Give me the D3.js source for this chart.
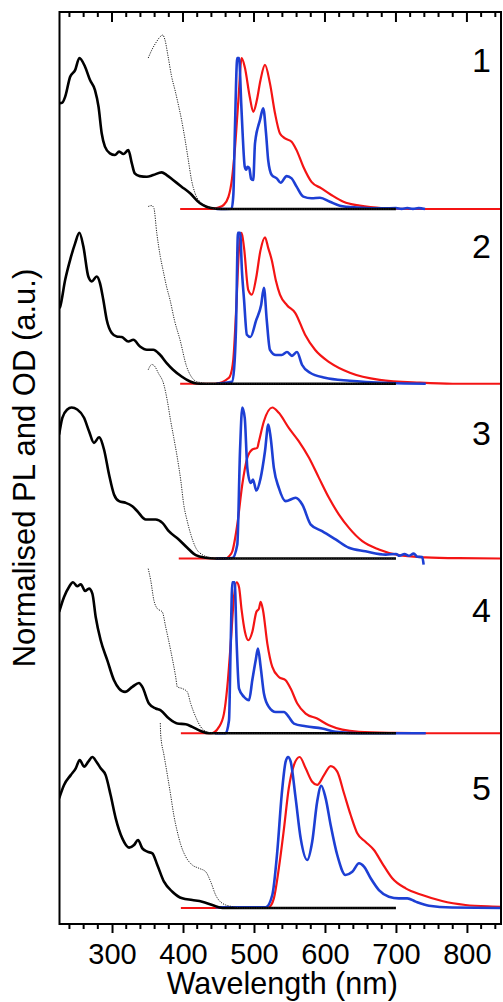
<!DOCTYPE html>
<html>
<head>
<meta charset="utf-8">
<script src="https://cdn.jsdelivr.net/npm/d3@7"></script>
<style>
  body { margin: 0; background: #fff; }
  text { font-family: "Liberation Sans", Arial, sans-serif; fill: #000; }
</style>
</head>
<body>
<div id="chart"></div>
<script>
// wavelength (nm), normalised value
// panel 1
const abs1 = [[226,0.70],[230,0.705],[234,0.744],[241,0.876],[248,0.92],[254,1.0],[262,0.942],[269,0.854],[276,0.788],[281,0.677],[285.5,0.50],[290,0.413],[297,0.369],[304,0.358],[310,0.38],[316,0.364],[323,0.39],[328,0.30],[332,0.236],[339,0.218],[349,0.214],[358,0.225],[370,0.243],[377,0.225],[386,0.192],[398,0.148],[410,0.104],[424,0.038],[433,0.015],[447,0.002],[460,0],[700,0]];
const exc1 = [[351,1.0],[356,1.053],[363,1.11],[367.6,1.14],[371.4,1.152],[374.6,1.12],[379,1.01],[384,0.876],[388.7,0.788],[393,0.70],[398,0.589],[403,0.457],[407.5,0.324],[412,0.192],[417,0.104],[424,0.048],[433,0.02],[447,0.002],[460,0],[700,0]];
const film1 = [[396,0],[440,0],[450,0.01],[457,0.026],[464,0.08],[469,0.2],[473,0.39],[478,0.72],[482.6,1.0],[487,0.94],[494,0.744],[499,0.644],[504,0.72],[509,0.85],[515.5,0.954],[522.5,0.832],[529.6,0.634],[536.6,0.50],[543.7,0.468],[553,0.446],[560,0.39],[569.5,0.28],[581,0.18],[595,0.137],[609,0.093],[626,0.048],[649,0.022],[682,0.005],[720,0],[850,0]];
const sol1 = [[447,0],[468.5,0.002],[471,0.1],[473,0.50],[476.5,1.0],[479,1.0],[482,0.7],[484,0.50],[487,0.28],[489,0.26],[491,0.28],[493.4,0.27],[496,0.2],[499,0.192],[501.4,0.435],[508.5,0.59],[513,0.667],[517,0.50],[520,0.324],[525,0.225],[532,0.203],[537.6,0.174],[546,0.218],[553,0.203],[560,0.148],[569.5,0.082],[581,0.071],[593,0.075],[607,0.048],[621,0.022],[645,0.01],[682,0.004],[700,0.006],[708,0.001],[716,0.007],[724,0.001],[732,0.006],[741,0]];

// panel 2
const abs2 = [[226,0.50],[227,0.512],[234,0.689],[241,0.821],[248,0.93],[254,1.0],[259.6,0.91],[266.6,0.71],[271.4,0.678],[278.4,0.71],[283,0.667],[287.7,0.556],[292.5,0.424],[299.6,0.336],[306.6,0.313],[313.7,0.309],[323,0.28],[330,0.291],[339.4,0.247],[349,0.225],[358,0.225],[367.6,0.192],[377,0.137],[386,0.093],[398,0.048],[410,0.015],[419,0.002],[430,0],[700,0]];
const exc2 = [[351,1.174],[356,1.18],[359,1.163],[363,1.0],[368,0.843],[372,0.75],[377,0.64],[381.7,0.556],[388,0.42],[395.8,0.291],[405,0.115],[412,0.045],[419,0.015],[440,0],[700,0]];
const film2 = [[396,0],[445,0],[455,0.01],[462,0.03],[466,0.048],[470.8,0.159],[475,0.5],[479,0.9],[482.6,1.0],[486,0.9],[492,0.62],[497,0.59],[503,0.7],[509,0.88],[515.5,0.97],[520,0.9],[525,0.82],[531,0.68],[536.6,0.59],[546.5,0.52],[558,0.47],[572,0.325],[586,0.225],[607,0.14],[635,0.073],[677,0.026],[734,0.007],[780,0],[850,0]];
const sol2 = [[447,0],[469,0.013],[472,0.1],[474.6,0.36],[477.5,1.0],[480.5,1.0],[483,0.75],[486,0.556],[490,0.325],[495,0.31],[503,0.42],[510,0.52],[514,0.636],[518,0.42],[522.5,0.225],[531,0.19],[539,0.19],[546.5,0.21],[553.5,0.185],[560.6,0.21],[567.6,0.126],[579,0.073],[600,0.04],[635,0.02],[690,0.005],[742,0]];

// panel 3
const abs3 = [[225.5,0.821],[230,0.932],[237,0.987],[243,1.0],[251,0.987],[260.6,0.932],[267.6,0.843],[274.6,0.766],[281.7,0.803],[288.7,0.722],[295.8,0.556],[302.8,0.424],[309.9,0.38],[319,0.369],[328.6,0.346],[335.7,0.313],[347.5,0.258],[361.5,0.258],[371,0.236],[380,0.181],[394,0.126],[406,0.071],[418,0.022],[432,0.005],[445,0],[700,0]];
const exc3 = [[351,1.25],[356,1.285],[360.6,1.27],[365,1.23],[373,1.152],[378,1.042],[382.7,0.909],[387,0.8],[392,0.667],[397,0.512],[401,0.358],[406,0.247],[411,0.159],[418,0.071],[427,0.026],[440,0.005],[455,0],[700,0]];
const film3 = [[394,0],[460,0],[465,0.015],[469.5,0.048],[476.5,0.225],[483.5,0.49],[490.6,0.667],[497.6,0.722],[504.6,0.733],[507,0.777],[514,0.909],[525.8,1.0],[535,0.965],[549,0.865],[563,0.777],[577.5,0.667],[591.5,0.534],[605.6,0.402],[619.7,0.291],[633.8,0.203],[652.6,0.115],[676,0.06],[704,0.022],[741.8,0.008],[788.7,0.002],[850,0]];
const sol3 = [[446,0],[469.5,0.003],[476.5,0.093],[480.3,0.71],[483.5,1.0],[487,0.93],[490.6,0.6],[495.3,0.5],[498.6,0.523],[503.3,0.45],[509.4,0.534],[515.5,0.71],[520.2,0.887],[523.5,0.8],[528,0.6],[535,0.468],[544.6,0.38],[558.7,0.402],[568,0.358],[580,0.225],[596,0.181],[615,0.126],[633.8,0.071],[657,0.048],[685.5,0.026],[700,0.03],[705,0.018],[712,0.03],[718,0.018],[725,0.032],[730,0.012],[737,0.01],[739,-0.04]];

// panel 4
const abs4 = [[225.5,0.803],[232.4,0.903],[239.4,0.969],[245,1.0],[251,0.974],[256,0.987],[262,0.942],[267.6,0.958],[272.3,0.925],[277,0.77],[284,0.616],[293.4,0.483],[302.8,0.351],[309.9,0.296],[318.3,0.274],[328.6,0.307],[338,0.333],[342.7,0.307],[352,0.197],[361.5,0.164],[368.6,0.152],[380.3,0.097],[392,0.064],[403.8,0.06],[413,0.042],[425,0.015],[436.6,0],[700,0]];
const exc4 = [[351,1.09],[354.5,1.013],[359,0.88],[363.8,0.826],[370.9,0.803],[375.6,0.704],[382.6,0.55],[389.7,0.373],[392,0.307],[399,0.296],[406,0.274],[410.8,0.197],[417.9,0.108],[425,0.042],[434,0.009],[445,0],[700,0]];
const film4 = [[397,0],[440,0],[450.7,0.042],[457.7,0.13],[462.4,0.307],[467.2,0.594],[471.8,0.903],[475.6,1.0],[478.9,0.969],[482.6,0.815],[487.3,0.671],[492,0.616],[497.6,0.671],[503.3,0.803],[507,0.826],[509.4,0.87],[512.7,0.815],[518.8,0.594],[525.8,0.439],[535,0.373],[544.6,0.351],[551.7,0.296],[561,0.197],[572.8,0.13],[589,0.097],[605.6,0.053],[624.4,0.024],[647.9,0.009],[694.8,0.002],[740,0],[850,0]];
const sol4 = [[445,0],[460,0],[464.8,0.086],[467.2,0.594],[469.5,1.0],[472.8,1.0],[475.6,0.594],[478.9,0.296],[486,0.24],[493,0.219],[497.6,0.351],[502.4,0.483],[505.6,0.561],[509.4,0.439],[514,0.263],[521,0.174],[530.6,0.141],[542.3,0.141],[549,0.108],[556.3,0.064],[572.8,0.046],[596,0.031],[615,0.009],[648,0],[742,0]];

// panel 5
const abs5 = [[225.5,0.726],[232.4,0.815],[241.8,0.88],[248.9,0.925],[254.5,0.98],[260.6,0.936],[266.6,0.969],[272.3,1.0],[278,0.969],[284,0.925],[291,0.88],[298,0.748],[305.2,0.594],[314.5,0.461],[324,0.4],[331,0.417],[336.6,0.45],[342.7,0.395],[349.7,0.373],[356.8,0.362],[363.8,0.285],[373.2,0.174],[385,0.108],[399,0.064],[413,0.053],[427,0.042],[441.3,0.02],[455.4,0],[700,0]];
const exc5 = [[368,1.225],[368.6,1.146],[373.2,1.013],[378,0.88],[382.6,0.748],[387,0.616],[392,0.505],[397,0.417],[403.8,0.34],[413,0.285],[422.5,0.263],[432,0.24],[439,0.174],[446,0.086],[455.4,0.031],[469.5,0.009],[485,0],[700,0]];
const film5 = [[397,0],[515,0],[521,0.005],[528,0.064],[535,0.263],[542.3,0.528],[549,0.793],[556.3,0.947],[564.4,1.0],[572.8,0.925],[582,0.836],[589,0.815],[598.6,0.88],[608,0.94],[617.3,0.903],[626.8,0.76],[636.2,0.616],[645.5,0.495],[657,0.439],[669,0.384],[680.7,0.296],[694.8,0.197],[713.7,0.13],[737,0.086],[765,0.046],[798,0.02],[835.6,0.01],[850,0.008]];
const sol5 = [[446,0.005],[516.5,0.005],[525.8,0.086],[532.8,0.373],[539,0.748],[544.6,0.969],[548,1.0],[551.7,0.969],[558.7,0.726],[565.8,0.461],[575,0.318],[582,0.439],[589,0.704],[594.8,0.81],[601,0.726],[608,0.55],[617.3,0.351],[629,0.219],[638.5,0.24],[648,0.296],[655,0.274],[664.4,0.197],[676,0.119],[690,0.075],[704,0.064],[716,0.064],[727.7,0.042],[746.5,0.015],[779,0.003],[850,0]];

const panelNames = ['1', '2', '3', '4', '5'];
const majorTicks = [300, 400, 500, 600, 700, 800];
const minorTicks = d3.range(240, 848, 20).filter(d => d % 100 !== 0);

const panels = [
    {abs: abs1, exc: exc1, film: film1, sol: sol1},
    {abs: abs2, exc: exc2, film: film2, sol: sol2},
    {abs: abs3, exc: exc3, film: film3, sol: sol3},
    {abs: abs4, exc: exc4, film: film4, sol: sol4},
    {abs: abs5, exc: exc5, film: film5, sol: sol5}
];

// layout
const width = 503, height = 1002;
const plot = {left: 59.5, right: 501, top: 12, bottom: 924};
const panelStep = 1.1573;          // vertical offset between stacked panels (value units)
const labelLift = [0.909, 0.834, 0.754, 0.738, 0.717];

const svg = d3.select('#chart').append('svg')
    .attr('width', width)
    .attr('height', height);

const x = d3.scaleLinear().domain([226, 848]).range([plot.left, plot.right]);
const y = d3.scaleLinear().domain([-0.106, 5.934]).range([plot.bottom, plot.top]);

svg.append('clipPath').attr('id', 'clip')
    .append('rect')
    .attr('x', plot.left).attr('y', plot.top)
    .attr('width', plot.right - plot.left).attr('height', plot.bottom - plot.top);

const curves = svg.append('g').attr('clip-path', 'url(#clip)');

panels.forEach((p, i) => {
    const off = (panels.length - 1 - i) * panelStep;
    const line = d3.line()
        .x(d => x(d[0]))
        .y(d => y(d[1] + off))
        .curve(d3.curveMonotoneX);

    curves.append('path').datum(p.film)
        .attr('d', line).attr('fill', 'none')
        .attr('stroke', '#f41414').attr('stroke-width', 2.2);

    curves.append('path').datum(p.sol)
        .attr('d', line).attr('fill', 'none')
        .attr('stroke', '#1d3fd4').attr('stroke-width', 2.6);

    curves.append('path').datum(p.abs)
        .attr('d', line).attr('fill', 'none')
        .attr('stroke', '#000').attr('stroke-width', 2.6)
        .attr('stroke-linejoin', 'round');

    curves.append('path').datum(p.exc)
        .attr('d', line).attr('fill', 'none')
        .attr('stroke', '#222').attr('stroke-width', 1)
        .attr('stroke-dasharray', '1.2,1.2');

    svg.append('text')
        .attr('x', 491)
        .attr('y', y(off + labelLift[i]))
        .attr('text-anchor', 'end')
        .style('font-size', '34px')
        .text(panelNames[i]);
});

// frame
svg.append('rect')
    .attr('x', plot.left).attr('y', plot.top)
    .attr('width', plot.right - plot.left).attr('height', plot.bottom - plot.top)
    .attr('fill', 'none').attr('stroke', '#000').attr('stroke-width', 2);

// bottom axis (outward ticks)
const xAxis = d3.axisBottom(x).tickValues(majorTicks).tickSize(9).tickPadding(10);
const gx = svg.append('g')
    .attr('transform', `translate(0, ${plot.bottom})`)
    .call(xAxis);
gx.select('.domain').remove();
gx.selectAll('line').attr('stroke-width', 2);
gx.selectAll('text').style('font-size', '29px')
    .style('font-family', '"Liberation Sans", Arial, sans-serif');

svg.append('g').selectAll('line')
    .data(minorTicks).join('line')
    .attr('x1', d => x(d)).attr('x2', d => x(d))
    .attr('y1', plot.bottom).attr('y2', plot.bottom + 5)
    .attr('stroke', '#000').attr('stroke-width', 2);

// top axis (inward ticks)
svg.append('g').selectAll('line')
    .data(majorTicks).join('line')
    .attr('x1', d => x(d)).attr('x2', d => x(d))
    .attr('y1', plot.top).attr('y2', plot.top + 10)
    .attr('stroke', '#000').attr('stroke-width', 2);

svg.append('g').selectAll('line')
    .data(minorTicks).join('line')
    .attr('x1', d => x(d)).attr('x2', d => x(d))
    .attr('y1', plot.top).attr('y2', plot.top + 5)
    .attr('stroke', '#000').attr('stroke-width', 2);

// axis titles
svg.append('text')
    .attr('x', (plot.left + plot.right) / 2 + 2)
    .attr('y', 994)
    .attr('text-anchor', 'middle')
    .style('font-size', '30.5px')
    .text('Wavelength (nm)');

svg.append('text')
    .attr('transform', 'rotate(-90)')
    .attr('x', -(plot.top + plot.bottom) / 2)
    .attr('y', 35)
    .attr('text-anchor', 'middle')
    .style('font-size', '31px')
    .text('Normalised PL and OD (a.u.)');
</script>
</body>
</html>
